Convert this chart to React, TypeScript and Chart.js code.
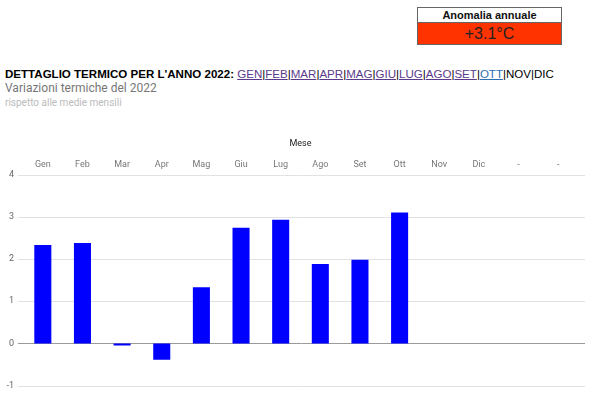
import React, { useEffect, useRef } from "react";
import { Chart, registerables } from "chart.js";

Chart.register(...registerables);

const categories = ["Gen", "Feb", "Mar", "Apr", "Mag", "Giu", "Lug", "Ago", "Set", "Ott", "Nov", "Dic", "-", "-"];
const anomalies: (number | null)[] = [2.33, 2.38, -0.05, -0.39, 1.33, 2.74, 2.93, 1.88, 1.98, 3.1, null, null, null, null];
const yTicks = [-1, 0, 1, 2, 3, 4];
const monthLinks = ["GEN", "FEB", "MAR", "APR", "MAG", "GIU", "LUG", "AGO", "SET", "OTT"];
const monthPlain = ["NOV", "DIC"];
const annualAnomaly = "+3.1°C";

const wideGrid = {
  id: "wideGrid",
  beforeDatasetsDraw(chart: any) {
    const { ctx, chartArea, scales } = chart;
    const y = scales.y;
    ctx.save();
    ctx.lineWidth = 1;
    yTicks.forEach((v) => {
      const py = Math.round(y.getPixelForValue(v)) + 0.5;
      ctx.strokeStyle = v === 0 ? "#9a9a9a" : "#e2e2e2";
      ctx.beginPath();
      ctx.moveTo(chartArea.left - 5, py);
      ctx.lineTo(chartArea.right + 7, py);
      ctx.stroke();
    });
    ctx.restore();
  },
};

export default function App() {
  const ref = useRef<HTMLCanvasElement | null>(null);
  useEffect(() => {
    if (!ref.current) return;
    const chart = new Chart(ref.current, {
      type: "bar",
      data: {
        labels: categories,
        datasets: [
          {
            data: anomalies,
            backgroundColor: "#0000ff",
            borderWidth: 0,
            categoryPercentage: 1,
            barPercentage: 0.43,
          },
        ],
      },
      plugins: [wideGrid],
      options: {
        animation: false,
        responsive: false,
        layout: { padding: { left: 0, right: 22, top: 8, bottom: 5 } },
        plugins: { legend: { display: false }, tooltip: { enabled: false } },
        scales: {
          x: {
            position: "top",
            grid: { display: false, drawTicks: false },
            border: { display: false },
            ticks: { color: "#777", font: { family: "Roboto", size: 9 }, padding: 4, maxRotation: 0, autoSkip: false },
            title: { display: true, text: "Mese", color: "#222", font: { family: "Roboto", size: 9 }, padding: { top: 0, bottom: 7 } },
          },
          y: {
            min: -1,
            max: 4,
            afterBuildTicks: (s: any) => {
              s.ticks = yTicks.map((v) => ({ value: v }));
            },
            afterFit: (s: any) => {
              s.width = 23;
            },
            grid: { display: false, drawTicks: false },
            border: { display: false },
            ticks: { color: "#666", font: { family: "Roboto", size: 9 }, padding: 9, align: "center" },
          },
        },
      },
    });
    return () => chart.destroy();
  }, []);

  const linkStyle = (m: string): React.CSSProperties => ({
    color: m === "OTT" ? "#2f6fb5" : "#5b3a8c",
    textDecoration: "underline",
    fontWeight: "normal",
  });

  return (
    <div style={{ position: "absolute", left: 0, top: 0, width: 600, height: 395, background: "#fff", overflow: "hidden" }}>
      <div
        style={{
          position: "absolute",
          left: 417,
          top: 7,
          width: 143,
          border: "1px solid #666",
          fontFamily: "'Liberation Sans', Arial, sans-serif",
          textAlign: "center",
        }}
      >
        <div style={{ fontSize: 11, fontWeight: "bold", height: 14, lineHeight: "14px", background: "#fff", borderBottom: "1px solid #666", color: "#111" }}>
          Anomalia annuale
        </div>
        <div style={{ fontSize: 16, height: 21, lineHeight: "21px", background: "#ff3300", color: "#222" }}>{annualAnomaly}</div>
      </div>
      <div
        style={{
          position: "absolute",
          left: 5,
          top: 67,
          fontFamily: "'Liberation Sans', Arial, sans-serif",
          fontSize: 11.55,
          fontWeight: "bold",
          color: "#000",
          whiteSpace: "nowrap",
          lineHeight: "15px",
        }}
      >
        DETTAGLIO TERMICO PER L'ANNO 2022:{" "}
        <span style={{ fontWeight: "normal" }}>
          {monthLinks.map((m) => (
            <React.Fragment key={m}>
              <span style={linkStyle(m)}>{m}</span>
              {"|"}
            </React.Fragment>
          ))}
          {monthPlain.map((m, i) => (
            <React.Fragment key={m}>
              {m}
              {i < monthPlain.length - 1 ? "|" : ""}
            </React.Fragment>
          ))}
        </span>
      </div>
      <div style={{ position: "absolute", left: 5, top: 81, fontFamily: "Roboto", fontSize: 12, color: "#777", whiteSpace: "nowrap" }}>
        Variazioni termiche del 2022
      </div>
      <div style={{ position: "absolute", left: 5, top: 97, fontFamily: "Roboto", fontSize: 10, color: "#bbb", whiteSpace: "nowrap" }}>
        rispetto alle medie mensili
      </div>
      <canvas ref={ref} width={600} height={270} style={{ position: "absolute", left: 0, top: 130, width: 600, height: 270 }} />
    </div>
  );
}
